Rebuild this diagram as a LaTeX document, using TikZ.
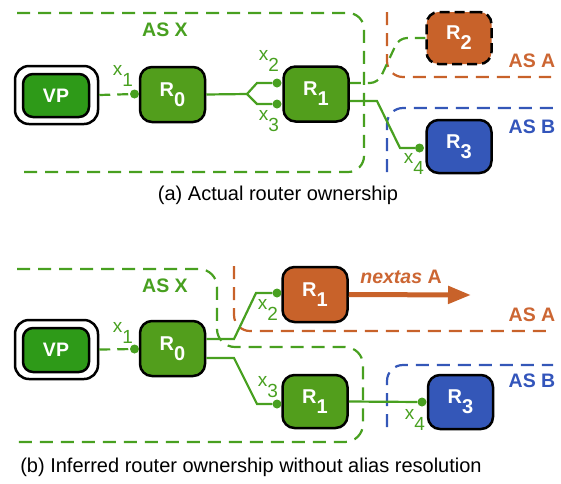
\documentclass[tikz,border=0pt]{standalone}
\usepackage{fontspec}
\setmainfont{Liberation Sans}
\usetikzlibrary{arrows.meta}
\definecolor{gline}{RGB}{72,160,32}
\definecolor{gvp}{RGB}{46,154,24}
\definecolor{grt}{RGB}{82,158,28}
\definecolor{org}{RGB}{200,98,42}
\definecolor{blu}{RGB}{52,87,184}
\definecolor{orgt}{RGB}{204,102,51}
\definecolor{blut}{RGB}{51,85,187}
\begin{document}
\begin{tikzpicture}[x=1pt,y=-1pt,
  router/.style={draw=black,line width=2.5pt,rounded corners=12pt,minimum width=65pt,minimum height=55pt,inner sep=0pt,text=white,font=\fontsize{20}{20}\selectfont\bfseries},
  vpouter/.style={draw=black,line width=2.5pt,rounded corners=14pt,fill=white,minimum width=83pt,minimum height=58pt,inner sep=0pt},
  vpinner/.style={draw=black,line width=2.5pt,rounded corners=10pt,fill=gvp,minimum width=66pt,minimum height=43pt,inner sep=0pt,text=white,font=\fontsize{19.5}{19.5}\selectfont\bfseries},
  dot/.style={circle,fill=gline,minimum size=9pt,inner sep=0pt},
  link/.style={draw=gline,line width=2.2pt},
  dlink/.style={draw=gline,line width=2.2pt,dash pattern=on 11pt off 7pt},
  asbox/.style={line width=2.2pt,dash pattern=on 13pt off 8pt,rounded corners=16pt},
  aslabel/.style={font=\fontsize{19.5}{19.5}\selectfont\bfseries,inner sep=0pt},
  xlabel/.style={text=gline,font=\fontsize{19}{19}\selectfont,inner sep=0pt},
  caption/.style={font=\fontsize{20}{20}\selectfont,inner sep=0pt}
]
\useasboundingbox (0,0) rectangle (561,483);

% ===================== (a) =====================
\draw[asbox,draw=gline] (17,13) -- (364,13) -- (364,172) -- (17,172);
\draw[asbox,draw=org] (387,12) -- (387,77) -- (551,77);
\draw[asbox,draw=blu] (387,172) -- (387,108) -- (553,108);

\node[aslabel,text=gline] (asxa) at (165,30) {AS X};
\node[aslabel,text=orgt] (asaa) at (532,61) {AS A};
\node[aslabel,text=blut] (asba) at (532,127) {AS B};

\node[vpouter] (vpoa) at (56.5,95) {};
\node[vpinner] (vpa) at (56,95.5) {VP};
\node[router,fill=grt] (r0a) at (172.5,94.5) {R\raisebox{-10pt}{0}};
\node[router,fill=grt] (r1a) at (316,94) {R\raisebox{-10pt}{1}};
\node[router,fill=org,dash pattern=on 10pt off 5pt,minimum height=52pt] (r2a) at (459,38) {R\raisebox{-10pt}{2}};
\node[router,fill=blu,minimum height=53pt] (r3a) at (459,146.5) {R\raisebox{-10pt}{3}};

\node[dot] (d1a) at (134.5,94) {};
\node[dot] (d2a) at (277,83) {};
\node[dot] (d3a) at (277,104) {};
\node[dot] (d4a) at (419.5,148) {};
\coordinate (forka) at (247,94);

\draw[dlink] (vpoa.east) -- (d1a);
\draw[link] (r0a.east) -- (forka) -- (257,83) -- (d2a);
\draw[link] (forka) -- (257,104) -- (d3a);
\draw[link] ([yshift=-7pt]r1a.east) -- (377,101) -- (400,148) -- (d4a);
\draw[dlink,rounded corners=8pt] ([yshift=11pt]r1a.east) -- (378,83) -- (399,38) -- (r2a.west);

\node[xlabel] (x1a) at (123,76) {x\raisebox{-11pt}{1}};
\node[xlabel] (x2a) at (269,61) {x\raisebox{-11pt}{2}};
\node[xlabel] (x3a) at (269,121) {x\raisebox{-11pt}{3}};
\node[xlabel] (x4a) at (414,164) {x\raisebox{-11pt}{4}};

\node[caption] (capa) at (278,195) {(a) Actual router ownership};

% ===================== (b) =====================
\draw[asbox,draw=gline,rounded corners=18pt] (17,269) -- (217,269) -- (217,347) -- (363,347) -- (363,442) -- (17,442);
\draw[asbox,draw=org] (234,266) -- (234,331) -- (551,331);
\draw[asbox,draw=blu] (387,427) -- (387,365) -- (553,365);

\node[aslabel,text=gline] (asxb) at (165,286) {AS X};
\node[aslabel,text=orgt] (asab) at (532,315) {AS A};
\node[aslabel,text=blut] (asbb) at (532,381) {AS B};

\node[vpouter,minimum height=59pt] (vpob) at (56.5,349.5) {};
\node[vpinner,minimum height=44pt] (vpb) at (56,350) {VP};
\node[router,fill=grt] (r0b) at (172.5,348.5) {R\raisebox{-10pt}{0}};
\node[router,fill=org] (r1o) at (315,294.5) {R\raisebox{-10pt}{1}};
\node[router,fill=grt,minimum height=53pt] (r1g) at (315,401.5) {R\raisebox{-10pt}{1}};
\node[router,fill=blu,minimum height=54pt] (r3b) at (460.5,402) {R\raisebox{-10pt}{3}};

\node[dot] (d1b) at (134.5,349) {};
\node[dot] (d2b) at (277,293) {};
\node[dot] (d3b) at (277,404) {};
\node[dot] (d4b) at (422,402) {};

\draw[dlink] (vpob.east) -- (d1b);
\draw[link] ([yshift=9.5pt]r0b.east) -- (234,339) -- (256,293) -- (d2b);
\draw[link] ([yshift=-9.5pt]r0b.east) -- (234,358) -- (257,404) -- (d3b);
\draw[link] (r1g.east) -- (d4b);

\coordinate (arrend) at (471,295);
\draw[draw=org,line width=5pt,-{Triangle[length=23pt,width=17pt]}] (r1o.east) -- (arrend);
\node[font=\fontsize{19.5}{19.5}\selectfont\bfseries,text=orgt,inner sep=0pt] (nxt) at (401,277) {\itshape nextas\/ \upshape A};

\node[xlabel] (x1b) at (123,333) {x\raisebox{-11pt}{1}};
\node[xlabel] (x2b) at (268,310) {x\raisebox{-11pt}{2}};
\node[xlabel] (x3b) at (268,387) {x\raisebox{-11pt}{3}};
\node[xlabel] (x4b) at (415,420) {x\raisebox{-11pt}{4}};

\node[caption] (capb) at (251,467) {(b) Inferred router ownership without alias resolution};
\end{tikzpicture}
\end{document}
